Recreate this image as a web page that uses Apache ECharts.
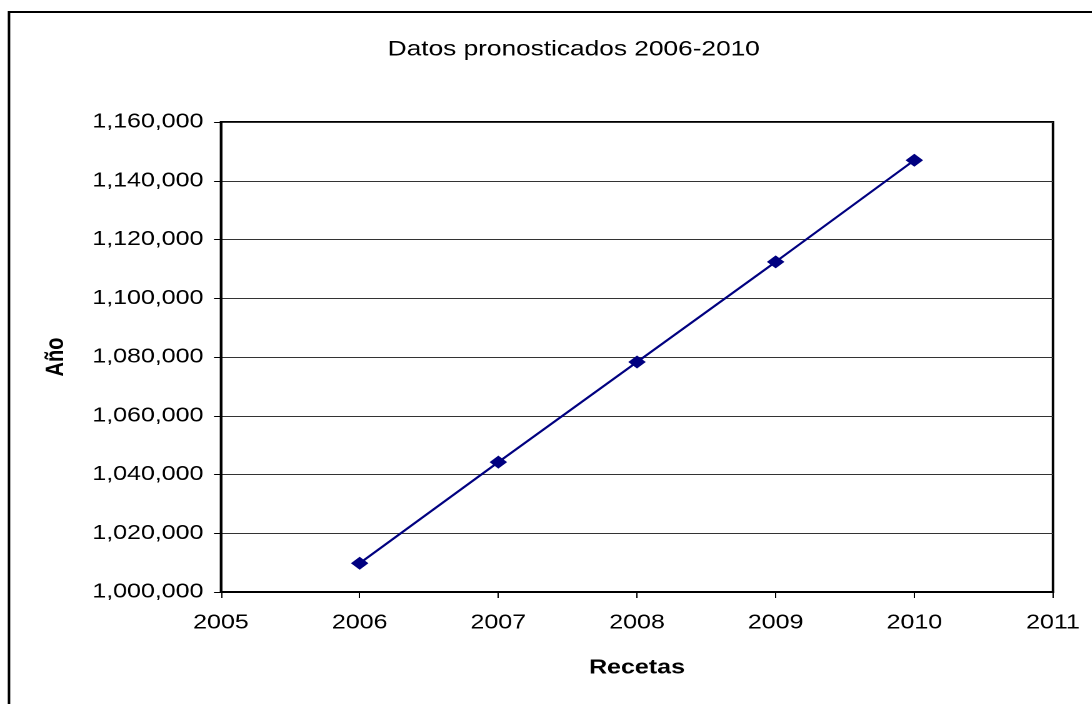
<!DOCTYPE html>
<html>
<head>
<meta charset="utf-8">
<title>Datos pronosticados 2006-2010</title>
<script src="https://cdn.jsdelivr.net/npm/echarts@6/dist/echarts.min.js"></script>
<style>
  html, body { margin: 0; padding: 0; background: #ffffff; overflow: hidden; }
  /* chart is laid out narrower and widened horizontally, like the original sheet export */
  #chart { width: 874px; height: 704px; transform: scaleX(1.25); transform-origin: 0 0; }
</style>
</head>
<body>
<div id="chart"></div>
<script>
// Forecast values per year
const years = [2006, 2007, 2008, 2009, 2010];
const recetas = [1009800, 1044200, 1078300, 1112400, 1147000];

// Axis ranges and tick spacing
const xRange = [2005, 2011];
const yRange = [1000000, 1160000];
const yStep = 20000;

const titleText = 'Datos pronosticados 2006-2010';
const xName = 'Recetas';
const yName = 'Año';

const font = '"Liberation Sans", Arial, sans-serif';

function withCommas(v) {
  return String(v).replace(/\B(?=(\d{3})+(?!\d))/g, ',');
}

const chart = echarts.init(document.getElementById('chart'), null, { devicePixelRatio: 2 });

chart.setOption({
  animation: false,
  backgroundColor: '#ffffff',
  title: {
    text: titleText,
    left: 454,
    top: 34,
    textAlign: 'center',
    textStyle: { fontFamily: font, fontSize: 21, fontWeight: 'normal', color: '#000' }
  },
  graphic: [{
    type: 'rect',
    shape: { x: 7.2, y: 12, width: 900, height: 800 },
    style: { fill: 'none', stroke: '#000', lineWidth: 2 },
    silent: true,
    z: 100
  }],
  grid: {
    left: 176.8,
    right: 31.6,
    top: 122,
    bottom: 112,
    show: true,
    borderColor: '#000',
    borderWidth: 2,
    backgroundColor: 'transparent'
  },
  xAxis: {
    type: 'value',
    min: xRange[0],
    max: xRange[1],
    interval: 1,
    name: xName,
    nameLocation: 'middle',
    nameGap: 66,
    nameTextStyle: { fontFamily: font, fontSize: 20, fontWeight: 'bold', color: '#000' },
    axisLine: { show: true, lineStyle: { color: '#000', width: 2 } },
    axisTick: { show: true, length: 6, lineStyle: { color: '#000', width: 1 } },
    axisLabel: {
      margin: 21,
      fontFamily: font,
      fontSize: 20,
      color: '#000',
      formatter: v => String(v)
    },
    splitLine: { show: false }
  },
  yAxis: {
    type: 'value',
    min: yRange[0],
    max: yRange[1],
    interval: yStep,
    name: yName,
    nameLocation: 'middle',
    nameGap: 122,
    nameRotate: 90,
    nameTextStyle: { fontFamily: font, fontSize: 20, fontWeight: 'bold', color: '#000' },
    axisLine: { show: true, lineStyle: { color: '#000', width: 2 } },
    axisTick: { show: true, length: 5.6, lineStyle: { color: '#000', width: 1 } },
    axisLabel: {
      margin: 14,
      fontFamily: font,
      fontSize: 20,
      color: '#000',
      formatter: v => withCommas(v)
    },
    splitLine: { show: true, lineStyle: { color: '#333333', width: 1 } }
  },
  series: [{
    type: 'line',
    data: years.map((y, i) => [y, recetas[i]]),
    symbol: 'diamond',
    symbolSize: [14, 13],
    showSymbol: true,
    lineStyle: { color: '#000080', width: 2 },
    itemStyle: { color: '#000080' },
    z: 10
  }]
});
</script>
</body>
</html>
